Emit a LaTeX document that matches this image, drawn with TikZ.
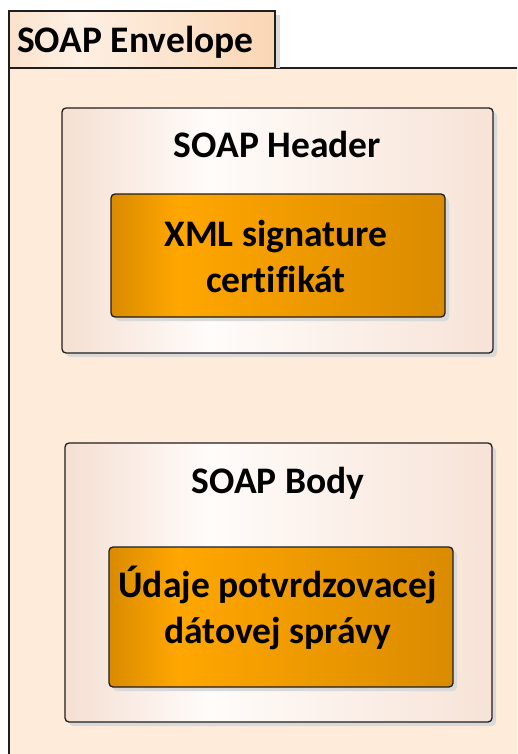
\documentclass[tikz,border=0pt]{standalone}
\usepackage{fontspec}
\setmainfont{Carlito}[Ligatures={NoCommon,TeX}]
\definecolor{envfill}{HTML}{FFEBD9}
\definecolor{edgec}{HTML}{1E1E1E}
\definecolor{shadowc}{HTML}{D9D9D9}
\definecolor{tabL}{HTML}{FBE2CC}
\definecolor{tabM}{HTML}{FEF0E4}
\definecolor{tabR}{HTML}{FAD6B3}
\definecolor{boxL}{HTML}{F5DFD2}
\definecolor{boxM}{HTML}{FFFCFA}
\definecolor{boxR}{HTML}{F7E3D7}
\definecolor{orL}{HTML}{D98B00}
\definecolor{orM}{HTML}{FFA600}
\definecolor{orR}{HTML}{DA8B00}
\pgfdeclarehorizontalshading{tabshade}{100bp}{color(0bp)=(tabL); color(25bp)=(tabL); color(38bp)=(tabM); color(75bp)=(tabR); color(100bp)=(tabR)}
\pgfdeclarehorizontalshading{boxshade}{100bp}{color(0bp)=(boxL); color(25bp)=(boxL); color(42bp)=(boxM); color(75bp)=(boxR); color(100bp)=(boxR)}
\pgfdeclarehorizontalshading{orshade}{100bp}{color(0bp)=(orL); color(25bp)=(orL); color(35bp)=(orM); color(75bp)=(orR); color(100bp)=(orR)}
\tikzset{
  edge/.style={draw=edgec, line width=1.3pt},
  lightbox/.style={edge, shading=boxshade, rounded corners=4pt},
  orangebox/.style={edge, shading=orshade, rounded corners=4pt},
  shadowbox/.style={fill=shadowc, rounded corners=4pt},
  lbl/.style={font=\fontsize{37.5}{45.5}\selectfont\bfseries, text=black, inner sep=0pt, align=center},
}
\begin{document}
\begin{tikzpicture}[x=1pt,y=-1pt]
\useasboundingbox (0,0) rectangle (517,754);
\clip (0,0) rectangle (517,754);
\fill[white] (0,0) rectangle (517,754);
% envelope
\fill[envfill] (9,68) rectangle (530,770);
\draw[edge] (530,68) -- (9,68) -- (9,770);
\fill[shadowc] (275,15) rectangle (280,68);
\shadedraw[edge, shading=tabshade] (9,11) rectangle (275,68);
\node[lbl, anchor=base west] (envtitle) at (17,53) {SOAP Envelope};
% header
\fill[shadowbox] (66,112) rectangle (497,357);
\shadedraw[lightbox] (62,108) rectangle (493,353);
\node[lbl, anchor=base] (hdr) at (277.5,158) {SOAP Header};
\fill[shadowbox] (115,198) rectangle (449,321);
\shadedraw[orangebox] (111,194) rectangle (445,317);
\node[lbl, anchor=base] (sig) at (276,292) {XML signature\\certifikát};
% body
\fill[shadowbox] (69,447) rectangle (496,726);
\shadedraw[lightbox] (65,443) rectangle (492,722);
\node[lbl, anchor=base] (bdy) at (278,493) {SOAP Body};
\fill[shadowbox] (113,551) rectangle (457,691);
\shadedraw[orangebox] (109,547) rectangle (453,687);
\node[lbl, anchor=base] (data) at (277.5,643) {Údaje potvrdzovacej\\dátovej správy};
\end{tikzpicture}
\end{document}
